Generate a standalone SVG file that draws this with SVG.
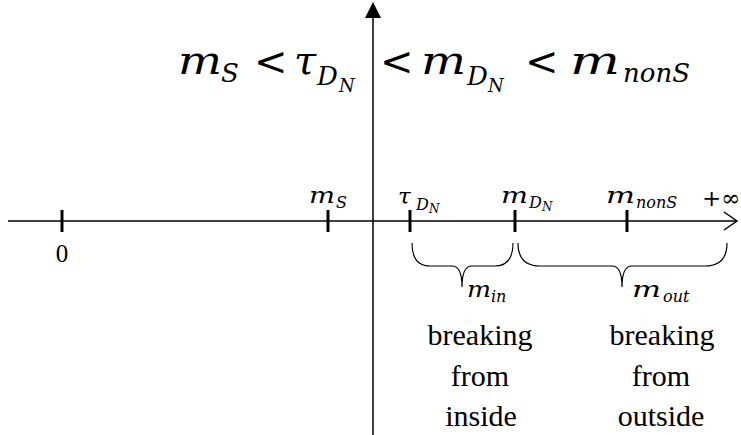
<svg xmlns="http://www.w3.org/2000/svg" width="741" height="435" viewBox="0 0 741 435">
<style>
.ax{stroke:#000;stroke-width:1.5;fill:none}
.tk{stroke:#000;stroke-width:3}
.br{stroke:#000;stroke-width:1.2;fill:none}
.mi{font-family:"DejaVu Serif",serif;font-style:italic;fill:#000}
.up{font-family:"DejaVu Serif",serif;fill:#000}
.tx{font-family:"Liberation Serif",serif;font-size:30px;fill:#000;text-anchor:middle}
.T{font-size:40px}
.Ts{font-size:26px}
.Tss{font-size:18px}
.L{font-size:23px}
.Ls{font-size:16px}
.Lss{font-size:12px}
</style>
<rect width="741" height="435" fill="#fff"/>
<g id="connectors">
<line class="ax" x1="8" y1="221" x2="736" y2="221"/>
<polyline class="ax" points="724,212 737,221 724,230"/>
<line class="ax" x1="373" y1="435" x2="373" y2="16"/>
<polygon points="373,2 365,18 381,18" fill="#000"/>
<path class="br" d="M412,243 Q412,266 430,266 H452 Q462,266 462,287 Q462,266 472,266 H495 Q513,266 513,243"/>
<path class="br" d="M518,243 Q518,266 540,266 H612 Q622,266 622,287 Q622,266 632,266 H705 Q727,266 727,243"/>
</g>
<g id="title">
<text class="mi T" x="178" y="74" textLength="44" lengthAdjust="spacingAndGlyphs">m</text>
<text class="mi Ts" x="221" y="82">S</text>
<text class="up T" x="254" y="75">&lt;</text>
<text class="mi T" x="294" y="74">τ</text>
<text class="mi Ts" x="317" y="85">D</text>
<text class="mi Tss" x="339" y="92">N</text>
<text class="up T" x="380" y="75">&lt;</text>
<text class="mi T" x="421" y="74" textLength="45" lengthAdjust="spacingAndGlyphs">m</text>
<text class="mi Ts" x="467" y="85">D</text>
<text class="mi Tss" x="488" y="92">N</text>
<text class="up T" x="525" y="75">&lt;</text>
<text class="mi T" x="570" y="74" textLength="50" lengthAdjust="spacingAndGlyphs">m</text>
<text class="mi Ts" x="623" y="82">nonS</text>
</g>
<g id="tick-0">
<line class="tk" x1="62" y1="210" x2="62" y2="232"/>
<text x="62" y="262" style="font-family:'Liberation Serif',serif;font-size:25px;text-anchor:middle">0</text>
</g>
<g id="tick-mS">
<line class="tk" x1="328" y1="210" x2="328" y2="232"/>
<text class="mi L" x="309" y="203" textLength="26" lengthAdjust="spacingAndGlyphs">m</text>
<text class="mi Ls" x="336" y="208">S</text>
</g>
<g id="tick-tau">
<line class="tk" x1="410" y1="210" x2="410" y2="232"/>
<text class="mi L" x="398" y="204">τ</text>
<text class="mi Ls" x="416" y="210">D</text>
<text class="mi Lss" x="429" y="213">N</text>
</g>
<g id="tick-mDN">
<line class="tk" x1="515" y1="210" x2="515" y2="232"/>
<text class="mi L" x="501" y="203" textLength="27" lengthAdjust="spacingAndGlyphs">m</text>
<text class="mi Ls" x="529" y="208">D</text>
<text class="mi Lss" x="542" y="211">N</text>
</g>
<g id="tick-mnonS">
<line class="tk" x1="627" y1="210" x2="627" y2="232"/>
<text class="mi L" x="606" y="203" textLength="29" lengthAdjust="spacingAndGlyphs">m</text>
<text class="mi Ls" x="636" y="208">nonS</text>
</g>
<g id="inf">
<text class="up" x="702" y="206" style="font-size:23px">+∞</text>
</g>
<g id="m-in">
<text class="mi L" x="467" y="297" textLength="24" lengthAdjust="spacingAndGlyphs">m</text>
<text class="mi Ls" x="491" y="302">in</text>
<text class="tx" x="480" y="345">breaking</text>
<text class="tx" x="480" y="386">from</text>
<text class="tx" x="481" y="426">inside</text>
</g>
<g id="m-out">
<text class="mi L" x="632" y="297" textLength="29" lengthAdjust="spacingAndGlyphs">m</text>
<text class="mi Ls" x="663" y="302">out</text>
<text class="tx" x="662" y="345">breaking</text>
<text class="tx" x="661" y="386">from</text>
<text class="tx" x="661" y="426">outside</text>
</g>
</svg>
